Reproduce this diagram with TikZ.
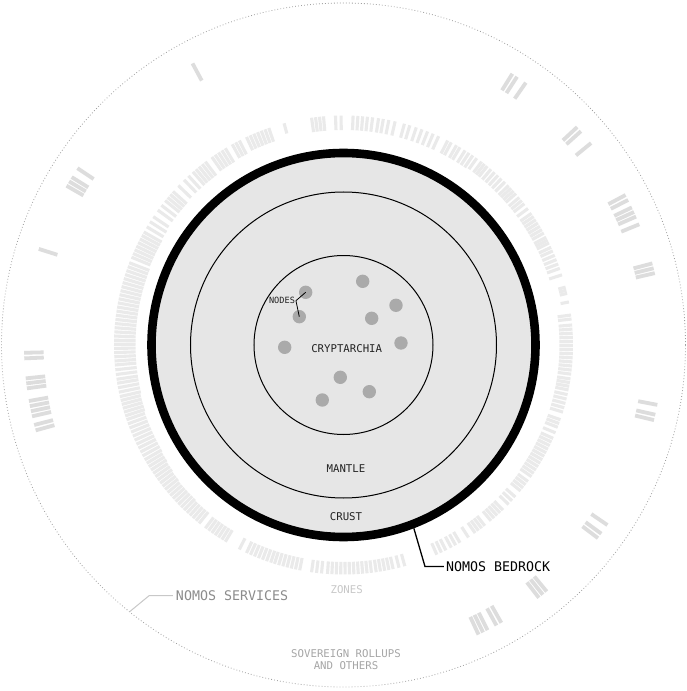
\documentclass[tikz,border=0pt]{standalone}
\usepackage{fontspec}
\setmonofont{DejaVu Sans Mono}
\definecolor{fillc}{HTML}{E6E6E6}
\definecolor{zonec}{HTML}{EAEAEA}
\definecolor{outc}{HTML}{DDDDDD}
\definecolor{dotc}{HTML}{AAAAAA}
\definecolor{svcc}{HTML}{8C8C8C}
\definecolor{zonet}{HTML}{C8C8C8}
\definecolor{sovc}{HTML}{A6A6A6}
\definecolor{ringd}{HTML}{A0A0A0}
\definecolor{txtc}{HTML}{222222}
\begin{document}
\begin{tikzpicture}[x=1pt,y=1pt,
  lbl/.style={font=\ttfamily\fontsize{10.7}{12.4}\selectfont, text=txtc, inner sep=0pt},
  smalllbl/.style={font=\ttfamily\fontsize{8.6}{10}\selectfont, text=txtc, inner sep=0pt},
  big/.style={font=\ttfamily\fontsize{13.3}{15}\selectfont, inner sep=0pt, anchor=west},
  nodedot/.style={circle, fill=dotc, minimum size=13.4pt, inner sep=0pt},
  zonebar/.style={draw=zonec, line width=3.1pt},
  outbar/.style={draw=outc, line width=3.8pt},
  layer/.style={circle, draw, inner sep=0pt},
]
\fill[white] (-343.5,-346) rectangle (343.5,345);
\useasboundingbox (-343.5,-346) rectangle (343.5,345);

% outer dotted circle (services boundary)
\draw[ringd, line width=0.8pt, dash pattern=on 0.8pt off 2.2pt] (0,0) circle[radius=342];

% inner zone ring
\foreach \a/\b/\r in {-66/-63.5/217, -62/-59.5/217, -57/-57/217, -55/-52/217, -50/-46/217, -44/-41.5/217, -39.5/-36.5/217, -35/-25/216, -24/-22.5/216, -21/-19/216, -17/-12.5/216, -11.3/-8.5/216, -7.3/5/216, 6.5/7.5/216, 10.8/10.8/221, 13/14.6/222, 17.8/17.8/216, 19.5/23/216, 24.2/25.2/216, 26.4/28/216, 29.2/35/216, 36.5/36.5/216, 38/40/216, 41.3/44/216, 45.3/45.3/216, 46.5/50/216, 51.2/53/216, 54.5/54.5/216, 55.7/58/215, 59.5/60.5/215, 62/63/215, 65.5/67/215, 68.5/70/215, 71.5/71.5/215, 73.2/74.6/215, 77/77/215, 78.6/78.6/215, 80/80/215, 81.2/82.7/215, 84/87.6/215, 90.6/92/215, 95/98/215, 105/105/219, 109/115/215, 117/119/214, 121/125/213, 127/131/212, 132.5/134/212, 136/136/212, 138/141/211, 142.5/144/211, 146/146/211, 147.5/149/210, 150.5/157.5/209, 159/178.8/208, 179.8/184/208, 185/188.6/208, 189.6/193/208, 194/198/209, 199/210/210, 211/213/211, 214/216/212, 217/219/213, 220/226/214, 227/231/215, 233/239/216, 243/243/217, 245/251.5/217, 252.5/259/217, 262/264.5/217, 266/277/217, 278.2/282.5/217, 284/285.5/217} {
  \pgfmathtruncatemacro\n{round((\b-\a)/1.05)}
  \foreach \i in {0,...,\n} {
    \pgfmathsetmacro\t{\a+\i*(\b-\a)/max(\n,1)}
    \draw[zonebar] (\t:\r) -- (\t:229.5);
  }
}

% outer sovereign rollup bars
\foreach \a/\b in {118.2/118.2, 57.1/58.1, 55.2/55.2, 42/43, 39.2/39.2, 27/28, 23.7/25.5, 22.2/22.2, 13/14.8, -10.8/-10.8, -13.6/-12.6, -37.2/-36.2, -34.3/-34.3, -52.3/-50.5, -65/-63.2, -61.4/-60.4, 146.4/146.4, 148.3/150.1, 162.5/162.5, 181.4/182.4, 186/187.8, 190.1/192.9, 194.5/195.5} {
  \pgfmathtruncatemacro\n{round((\b-\a)/0.95)}
  \foreach \i in {0,...,\n} {
    \pgfmathsetmacro\t{\a+\i*(\b-\a)/max(\n,1)}
    \draw[outbar] (\t:300) -- (\t:319.5);
  }
}

% layers
\node[layer, line width=8.6pt, fill=fillc, minimum size=384pt] (bedrock) at (0,0) {};
\node[layer, line width=1pt, minimum size=306pt] (mantle) at (0,0) {};
\node[layer, line width=1pt, minimum size=179pt] (crypt) at (0,0) {};

% cryptarchia nodes
\foreach \k/\x/\y in {1/-37.8/52.7, 2/19.2/63.7, 3/-44.2/28.3, 4/52.5/39.7, 5/28.2/26.7, 6/-58.8/-2.3, 7/57.5/2, 8/-3.2/-32.3, 9/25.8/-46.7, 10/-21.2/-55}
  \node[nodedot] (d\k) at (\x,\y) {};

% labels
\node[smalllbl] (nodeslbl) at (-61.5,44.3) {NODES};
\coordinate (nj) at ([xshift=0.8pt]nodeslbl.east);
\draw[line width=0.8pt] (d1.center) -- (nj) -- (d3.center);

\node[lbl] (cryptlbl) at (3.2,-4) {CRYPTARCHIA};
\node[lbl] (mantlelbl) at (2.5,-124) {MANTLE};
\node[lbl] (crustlbl) at (2.5,-171.7) {CRUST};
\node[lbl, text=zonet] (zoneslbl) at (3.2,-244.3) {ZONES};
\node[lbl, text=sovc, align=center] (sovlbl) at (2.5,-314.5) {SOVEREIGN ROLLUPS\\AND OTHERS};

% bedrock callout
\node[big, text=black] (bedlbl) at (102.3,-221.5) {NOMOS BEDROCK};
\coordinate (bedbend) at (81.5,-221.5);
\draw[line width=1.3pt, shorten >=2pt] (bedrock.-69.66) -- (bedbend) -- (bedlbl.west);

% services callout
\node[big, text=svcc] (svclbl) at (-167.7,-250.5) {NOMOS SERVICES};
\coordinate (svcstart) at (-128.73:342);
\coordinate (svcbend) at (-194.2,-250.5);
\draw[zonet, line width=1pt, shorten >=3pt] (svcstart) -- (svcbend) -- (svclbl.west);
\end{tikzpicture}
\end{document}
